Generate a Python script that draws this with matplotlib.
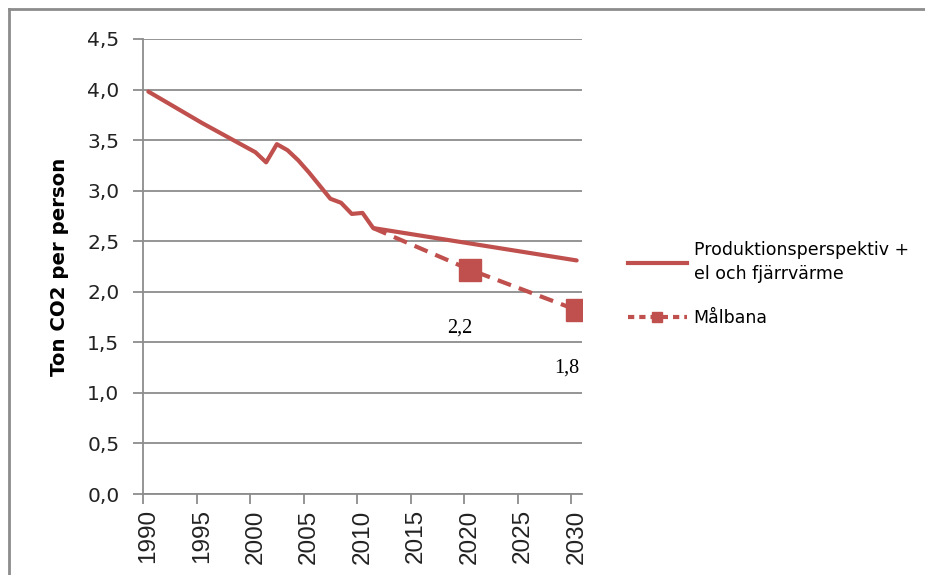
import matplotlib
matplotlib.use("Agg")
import matplotlib.pyplot as plt
from matplotlib.lines import Line2D

# data
prod_years = [1990, 1995, 2000, 2001, 2002, 2003, 2004, 2005, 2006, 2007,
              2008, 2009, 2010, 2011, 2030]
prod_values = [3.98, 3.67, 3.38, 3.28, 3.46, 3.40, 3.30, 3.18, 3.05, 2.92,
               2.88, 2.77, 2.78, 2.63, 2.31]

goal_years = [2011, 2020, 2030]
goal_values = [2.63, 2.22, 1.82]
goal_labels = ["", "2,2", "1,8"]

xticks = [1990, 1995, 2000, 2005, 2010, 2015, 2020, 2025, 2030]
yticks = [0.0, 0.5, 1.0, 1.5, 2.0, 2.5, 3.0, 3.5, 4.0, 4.5]

red = "#C0504D"
grey = "#8C8C8C"

fig = plt.figure(figsize=(9.25, 5.75), dpi=100)
ax = fig.add_axes([143 / 925, 81 / 575, 439 / 925, 455 / 575])

ax.plot(prod_years, prod_values, color=red, lw=3, solid_capstyle="round",
        solid_joinstyle="round", zorder=3)
ax.plot(goal_years, goal_values, color=red, lw=3, dashes=(3.4, 2.0),
        zorder=2)
ax.plot(goal_years[1:], goal_values[1:], ls="none", marker="s", ms=15.5,
        color=red, zorder=4)

for x, y, t in zip(goal_years, goal_values, goal_labels):
    if t:
        ax.annotate(t, (x, y), xytext=(-7, -42), textcoords="offset points",
                    ha="center", va="center", fontsize=14.5,
                    family="Liberation Serif")

ax.set_xlim(1989.5, 2030.5)
ax.set_ylim(0, 4.5)
ax.set_yticks(yticks)
ax.set_yticklabels([f"{v:.1f}".replace(".", ",") for v in yticks],
                   fontsize=14.5, family="DejaVu Sans", color="#222222")
ax.set_xticks(xticks)
ax.set_xticklabels([str(v) for v in xticks], rotation=90, fontsize=17.5,
                   family="Liberation Sans", color="#222222")
ax.set_xticks([v - 0.5 for v in xticks], minor=True)
ax.tick_params(axis="x", which="major", length=0, pad=11)
ax.tick_params(axis="x", which="minor", length=7, width=1.3, color=grey,
               direction="out")
ax.tick_params(axis="y", length=7, width=1.3, color=grey, pad=10)

ax.grid(axis="y", color=grey, lw=1.3)
ax.set_axisbelow(True)
for s in ["top", "right"]:
    ax.spines[s].set_visible(False)
for s in ["left", "bottom"]:
    ax.spines[s].set_color(grey)
    ax.spines[s].set_linewidth(1.3)

ax.set_ylabel("Ton CO2 per person", fontsize=14.2, fontweight="bold",
              family="DejaVu Sans", labelpad=13)

handles = [
    Line2D([], [], color=red, lw=3),
    Line2D([], [], color=red, lw=3, dashes=(1.5, 1.2), marker="s", ms=7),
]
leg = fig.legend(handles, ["Produktionsperspektiv +\nel och fjärrvärme", "Målbana"],
                 loc="upper left", bbox_to_anchor=(612 / 925, 1 - 225 / 575),
                 frameon=False, handlelength=3.4, handletextpad=0.4,
                 labelspacing=1.5, prop={"family": "DejaVu Sans", "size": 12.5})
for t in leg.get_texts():
    t.set_linespacing(1.45)

# outer frame (top and left edges)
fig.add_artist(Line2D([9 / 925, 1], [1 - 9 / 575, 1 - 9 / 575],
                      transform=fig.transFigure, color=grey, lw=2))
fig.add_artist(Line2D([9 / 925, 9 / 925], [0, 1 - 9 / 575],
                      transform=fig.transFigure, color=grey, lw=2))

fig.savefig("out.png", dpi=100)
